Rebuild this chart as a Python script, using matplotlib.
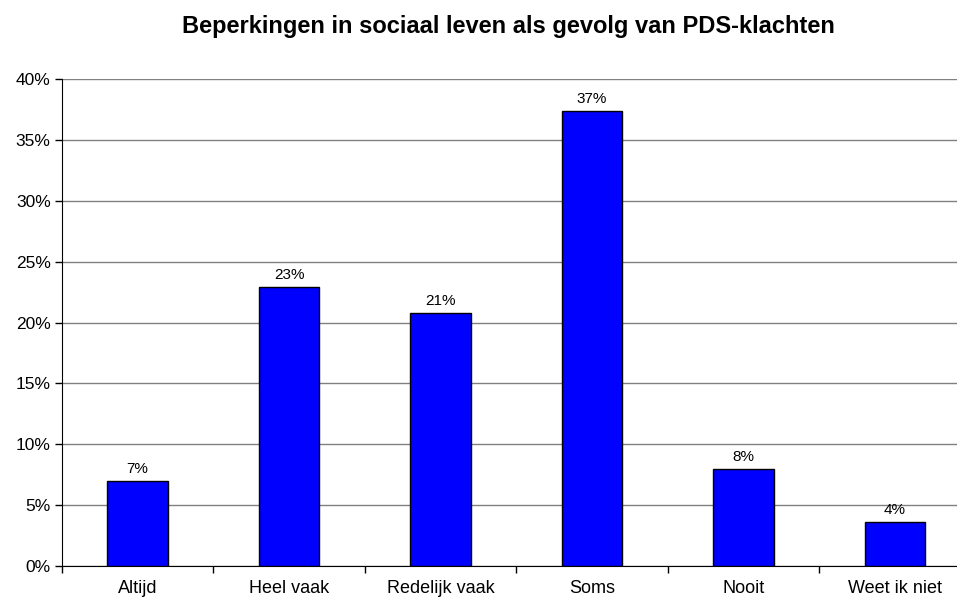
import matplotlib.pyplot as plt
import numpy as np

categories = ['Altijd', 'Heel vaak', 'Redelijk vaak', 'Soms', 'Nooit', 'Weet ik niet']
values = [7.0, 22.9, 20.8, 37.4, 8.0, 3.6]
yticks = [0, 5, 10, 15, 20, 25, 30, 35, 40]

plt.rcParams['font.family'] = ['Liberation Sans', 'DejaVu Sans']

fig = plt.figure(figsize=(9.57, 6.01), dpi=100)
# plot area runs a little past the right edge of the picture, like the original
ax = fig.add_axes([61.8 / 957, 35 / 601, 909 / 957, 486.7 / 601])

x = np.arange(len(categories))
ax.bar(x, values, width=0.4, color='#0000FF', edgecolor='black', linewidth=1, zorder=3)

for xi, v in zip(x, values):
    ax.text(xi, v + 0.65, f'{round(v):.0f}%', ha='center', va='baseline', fontsize=11)

ax.set_xlim(-0.5, len(categories) - 0.5)
ax.set_ylim(0, 40)
ax.set_yticks(yticks)
ax.set_yticklabels([f'{t}%' for t in yticks], fontsize=12.5)
ax.set_xticks(x)
ax.set_xticklabels(categories, fontsize=13)
ax.tick_params(axis='x', length=0, pad=10)
ax.set_xticks(np.arange(len(categories) + 1) - 0.5, minor=True)
ax.tick_params(axis='x', which='minor', length=5, direction='out', width=1)
ax.tick_params(axis='y', length=5, direction='out', width=1, pad=3)

ax.yaxis.grid(True, color='#808080', linewidth=1, zorder=0)
ax.set_axisbelow(True)
for s in ['top', 'right']:
    ax.spines[s].set_visible(False)
ax.spines['left'].set_color('black')
ax.spines['bottom'].set_color('black')

fig.text(508.5 / 957, 1 - 33.3 / 601, 'Beperkingen in sociaal leven als gevolg van PDS-klachten',
         ha='center', va='baseline', fontsize=17, fontweight='bold')

fig.savefig('out.png', dpi=100)
